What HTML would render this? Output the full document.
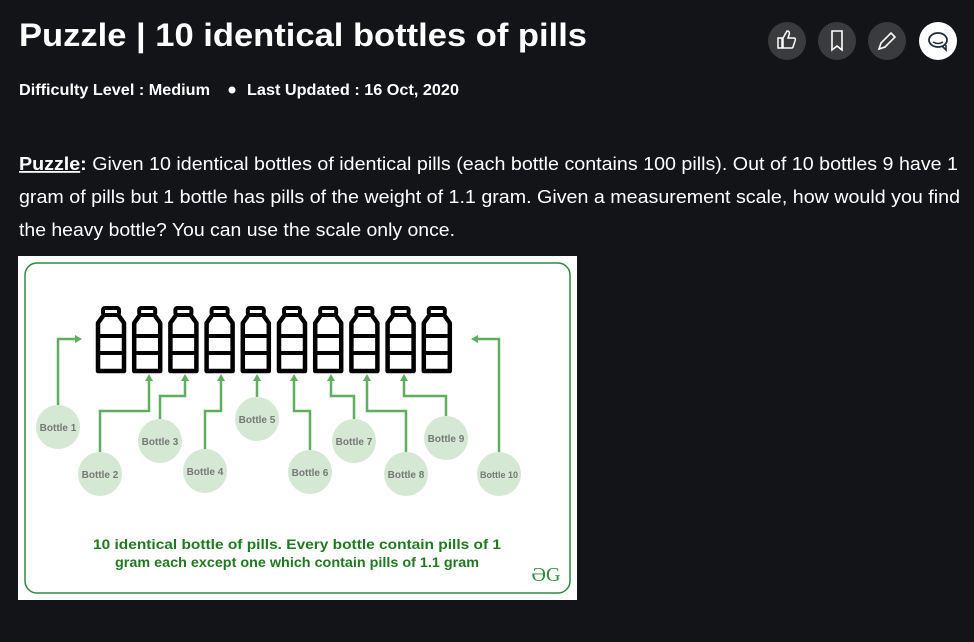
<!DOCTYPE html>
<html><head><meta charset="utf-8"><style>
html,body{margin:0;padding:0;background:#131417;width:974px;height:642px;overflow:hidden}
svg{display:block}
</style></head><body>
<svg width="974" height="642" viewBox="0 0 974 642" xmlns="http://www.w3.org/2000/svg" font-family="Liberation Sans, sans-serif">
<rect width="974" height="642" fill="#131417"/>
<text x="19" y="46" font-size="32" font-weight="bold" fill="#fff" textLength="568" lengthAdjust="spacingAndGlyphs">Puzzle | 10 identical bottles of pills</text>
<g><circle cx="787" cy="41" r="19" fill="#3a3b3d"/><path d="M778 38h4v10h-4z M783 38l4-7c2 0 3 1 2 4l-1 3h6c1 0 2 1 1 3l-2 6c0 1-1 1-2 1h-8z" fill="none" stroke="#fff" stroke-width="1.5"/></g>
<g><circle cx="837" cy="41" r="19" fill="#3a3b3d"/><path d="M832 31h10v19l-5-4-5 4z" fill="none" stroke="#fff" stroke-width="1.6"/></g>
<g><circle cx="887" cy="41" r="19" fill="#3a3b3d"/><path d="M879 49l2-6 10-10 4 4-10 10z" fill="none" stroke="#fff" stroke-width="1.6"/></g>
<g><circle cx="938" cy="41" r="19" fill="#fff"/><ellipse cx="938" cy="40" rx="9" ry="7" fill="none" stroke="#1b2a3a" stroke-width="1.8"/><path d="M933 42q5 3 10 0" fill="none" stroke="#1b2a3a" stroke-width="1.6"/><path d="M942 46l4 4 0-5" fill="none" stroke="#1b2a3a" stroke-width="1.6"/></g>
<text x="19" y="95" font-size="16" font-weight="bold" fill="#fff" textLength="191" lengthAdjust="spacingAndGlyphs">Difficulty Level : Medium</text>
<circle cx="232" cy="90" r="3.5" fill="#fff"/>
<text x="247" y="95" font-size="16" font-weight="bold" fill="#fff" textLength="212" lengthAdjust="spacingAndGlyphs">Last Updated : 16 Oct, 2020</text>
<g font-size="18" fill="#fff">
<text x="19" y="170" textLength="939" lengthAdjust="spacingAndGlyphs"><tspan font-weight="bold" text-decoration="underline">Puzzle</tspan><tspan font-weight="bold">:</tspan> Given 10 identical bottles of identical pills (each bottle contains 100 pills). Out of 10 bottles 9 have 1</text>
<text x="19" y="203" textLength="941" lengthAdjust="spacingAndGlyphs">gram of pills but 1 bottle has pills of the weight of 1.1 gram. Given a measurement scale, how would you find</text>
<text x="19" y="236" textLength="436" lengthAdjust="spacingAndGlyphs">the heavy bottle? You can use the scale only once.</text>
</g>
<g>
<rect x="18" y="256" width="559" height="344" fill="#fff"/>
<rect x="25" y="263" width="545" height="330" rx="12" fill="#fff" stroke="#2e8b3e" stroke-width="1.5"/>
<g id="bottles"></g>
<g fill="none" stroke="#5fae5f" stroke-width="2.5">
<path d="M58 405V339H78"/><path d="M100 452V411H149V378"/><path d="M160 419V396H185V378"/><path d="M205 449V411H221V378"/><path d="M257 397V378"/><path d="M310 450V411H294V378"/><path d="M354 419V396H331V378"/><path d="M406 452V411H367V378"/><path d="M446 416V396H404V378"/><path d="M499 452V339H475"/>
</g>
<g fill="#5fae5f">
<path d="M82 339l-7-4v8z"/><path d="M471 339l7-4v8z"/>
<path d="M149 374l-4 7h8z"/><path d="M185 374l-4 7h8z"/><path d="M221 374l-4 7h8z"/><path d="M257 374l-4 7h8z"/><path d="M294 374l-4 7h8z"/><path d="M331 374l-4 7h8z"/><path d="M367 374l-4 7h8z"/><path d="M404 374l-4 7h8z"/>
</g>
<g id="circles" font-size="10" font-weight="bold" fill="#777" text-anchor="middle"></g>
<text x="297" y="549" font-size="14" font-weight="bold" fill="#1f7a1f" text-anchor="middle" textLength="408" lengthAdjust="spacingAndGlyphs">10 identical bottle of pills. Every bottle contain pills of 1</text>
<text x="297" y="567" font-size="14" font-weight="bold" fill="#1f7a1f" text-anchor="middle" textLength="364" lengthAdjust="spacingAndGlyphs">gram each except one which contain pills of 1.1 gram</text>
<text x="546" y="581" font-size="20" fill="#2e8b3e" text-anchor="middle" font-family="Liberation Serif, serif">ƏG</text>
</g>
</svg>
<script>
const bottleLabels=["Bottle 1","Bottle 2","Bottle 3","Bottle 4","Bottle 5","Bottle 6","Bottle 7","Bottle 8","Bottle 9","Bottle 10"];
const NS="http://www.w3.org/2000/svg";
const bg=document.getElementById('bottles');
for(let i=0;i<10;i++){
  const cx=111+i*36.2;
  const g=document.createElementNS(NS,'g');
  
  
  g.innerHTML=`<rect x="${cx-8}" y="308" width="16" height="7" rx="2" fill="none" stroke="#000" stroke-width="4"/>
  <path d="M${cx-8} 316 L${cx-13} 323 V371 H${cx+13} V323 L${cx+8} 316" fill="none" stroke="#000" stroke-width="4.5" stroke-linejoin="round"/>
  <rect x="${cx-13}" y="334" width="26" height="4" fill="#000"/><rect x="${cx-13}" y="351" width="26" height="4" fill="#000"/>`;
  bg.appendChild(g);
}
const cpos=[[58,427],[100,474],[160,441],[205,471],[257,419],[310,472],[354,441],[406,474],[446,438],[499,474]];
const cg=document.getElementById('circles');
bottleLabels.forEach((l,i)=>{
  const g=document.createElementNS(NS,'g');
  
  
  g.innerHTML=`<circle cx="${cpos[i][0]}" cy="${cpos[i][1]}" r="22" fill="#d5e8d4"/><text x="${cpos[i][0]}" y="${cpos[i][1]+4}" font-size="${i==9?9:10}">${l}</text>`;
  cg.appendChild(g);
});
</script>
</body></html>
